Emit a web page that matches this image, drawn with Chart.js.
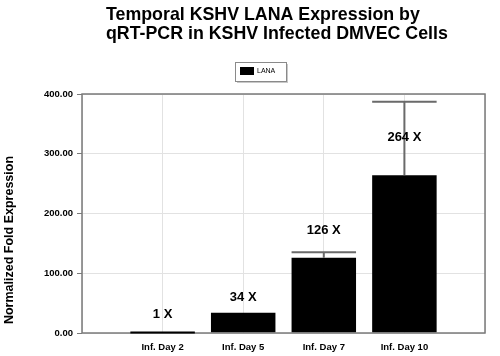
<!DOCTYPE html>
<html>
<head>
<meta charset="utf-8">
<script src="https://cdn.jsdelivr.net/npm/chart.js@4/dist/chart.umd.min.js"></script>
<style>
  html, body { margin: 0; padding: 0; background: #ffffff; }
  #wrap { width: 500px; height: 356px; position: relative; }
</style>
</head>
<body>
<div id="wrap"><canvas id="c" width="500" height="356"></canvas></div>
<script>
// ---- data ----
const categories = ['', 'Inf. Day 2', 'Inf. Day 5', 'Inf. Day 7', 'Inf. Day 10', ''];
const lanaValues = [null, 1, 34, 126, 264, null];
const errorPlus = [null, 0, 0, 9, 123, null];
const valueLabels = [null, '1 X', '34 X', '126 X', '264 X', null];
const labelAnchor = [null, 31, 59, 171, 328, null];
const yTicks = [0, 100, 200, 300, 400];
const titleLines = ['Temporal KSHV LANA Expression by', 'qRT-PCR in KSHV Infected DMVEC Cells'];
const yTitle = 'Normalized Fold Expression';
const seriesName = 'LANA';

const FONT = '"Liberation Sans", Arial, sans-serif';

const decor = {
  id: 'decor',
  beforeDraw(chart) {
    const ctx = chart.ctx;
    ctx.save();
    ctx.fillStyle = '#ffffff';
    ctx.fillRect(0, 0, chart.width, chart.height);
    ctx.restore();
  },
  afterDatasetsDraw(chart) {
    const ctx = chart.ctx;
    const meta = chart.getDatasetMeta(0);
    const y = chart.scales.y;
    const area = chart.chartArea;
    ctx.save();
    // error bars
    ctx.strokeStyle = '#6a6a6a';
    ctx.lineWidth = 2;
    meta.data.forEach((bar, i) => {
      const e = errorPlus[i];
      const v = lanaValues[i];
      if (v == null || !e) return;
      const half = bar.width / 2;
      const yTop = y.getPixelForValue(v + e);
      const yBar = y.getPixelForValue(v);
      ctx.beginPath();
      ctx.moveTo(bar.x, yBar);
      ctx.lineTo(bar.x, yTop);
      ctx.moveTo(bar.x - half, yTop);
      ctx.lineTo(bar.x + half, yTop);
      ctx.stroke();
    });
    // value labels
    ctx.fillStyle = '#000000';
    ctx.font = 'bold 13px ' + FONT;
    ctx.textAlign = 'center';
    ctx.textBaseline = 'middle';
    meta.data.forEach((bar, i) => {
      if (!valueLabels[i]) return;
      ctx.fillText(valueLabels[i], bar.x, y.getPixelForValue(labelAnchor[i]));
    });
    // frame
    ctx.strokeStyle = '#7a7a7a';
    ctx.lineWidth = 1.5;
    ctx.strokeRect(area.left, area.top, area.right - area.left, area.bottom - area.top);
    // thin day-2 bar sits on the axis; redraw it over the frame
    meta.data.forEach((bar, i) => {
      const v = lanaValues[i];
      if (v == null) return;
      const yb = y.getPixelForValue(v);
      if (area.bottom - yb < 2) {
        ctx.strokeStyle = '#000000';
        ctx.lineWidth = 2;
        ctx.beginPath();
        ctx.moveTo(bar.x - bar.width / 2, area.bottom - 0.5);
        ctx.lineTo(bar.x + bar.width / 2, area.bottom - 0.5);
        ctx.stroke();
      }
    });
    ctx.restore();
  },
  afterDraw(chart) {
    const ctx = chart.ctx;
    ctx.save();
    // title
    ctx.fillStyle = '#000000';
    ctx.font = 'bold 17.8px ' + FONT;
    ctx.textAlign = 'left';
    ctx.textBaseline = 'alphabetic';
    ctx.fillText(titleLines[0], 106, 20);
    ctx.fillText(titleLines[1], 106, 39);
    // y title
    ctx.font = 'bold 12.5px ' + FONT;
    ctx.textAlign = 'center';
    ctx.textBaseline = 'middle';
    ctx.translate(10, 240);
    ctx.rotate(-Math.PI / 2);
    ctx.fillText(yTitle, 0, 0);
    ctx.restore();
    // legend
    ctx.save();
    const lx = 235, ly = 62, lw = 51, lh = 19;
    ctx.fillStyle = '#c8c8c8';
    ctx.fillRect(lx + 2, ly + 2, lw, lh);
    ctx.fillStyle = '#ffffff';
    ctx.fillRect(lx, ly, lw, lh);
    ctx.strokeStyle = '#8a8a8a';
    ctx.lineWidth = 1;
    ctx.strokeRect(lx + 0.5, ly + 0.5, lw, lh);
    ctx.fillStyle = '#000000';
    ctx.fillRect(lx + 5, ly + 5, 14, 8);
    ctx.font = '7px ' + FONT;
    ctx.textAlign = 'left';
    ctx.textBaseline = 'middle';
    ctx.fillText(chart.data.datasets[0].label, lx + 22, ly + 9.5);
    ctx.restore();
  }
};

new Chart(document.getElementById('c'), {
  type: 'bar',
  data: {
    labels: categories,
    datasets: [{
      label: seriesName,
      data: lanaValues,
      backgroundColor: '#000000',
      borderWidth: 0,
      categoryPercentage: 1.0,
      barPercentage: 0.8
    }]
  },
  options: {
    responsive: false,
    animation: false,
    devicePixelRatio: 1,
    layout: { padding: { left: 0, right: 15, top: 94, bottom: 0 } },
    plugins: {
      legend: { display: false },
      title: { display: false },
      tooltip: { enabled: false }
    },
    scales: {
      x: {
        type: 'category',
        offset: false,
        grid: { display: true, offset: false, color: '#e2e2e2', lineWidth: 1, drawTicks: false },
        border: { display: false },
        ticks: {
          color: '#000000',
          font: { family: FONT, size: 9.5, weight: 'bold' },
          padding: 9,
          autoSkip: false,
          maxRotation: 0
        },
        afterFit(s) { s.height = 23; }
      },
      y: {
        min: 0,
        max: 400,
        afterBuildTicks(s) { s.ticks = yTicks.map(v => ({ value: v })); },
        grid: { color: '#e2e2e2', lineWidth: 1, drawTicks: true, tickLength: 5, tickColor: '#7a7a7a' },
        border: { display: false },
        ticks: {
          color: '#000000',
          font: { family: FONT, size: 9.5, weight: 'bold' },
          padding: 4,
          callback: v => Number(v).toFixed(2)
        },
        afterFit(s) { s.width = 82; }
      }
    }
  },
  plugins: [decor]
});
</script>
</body>
</html>
